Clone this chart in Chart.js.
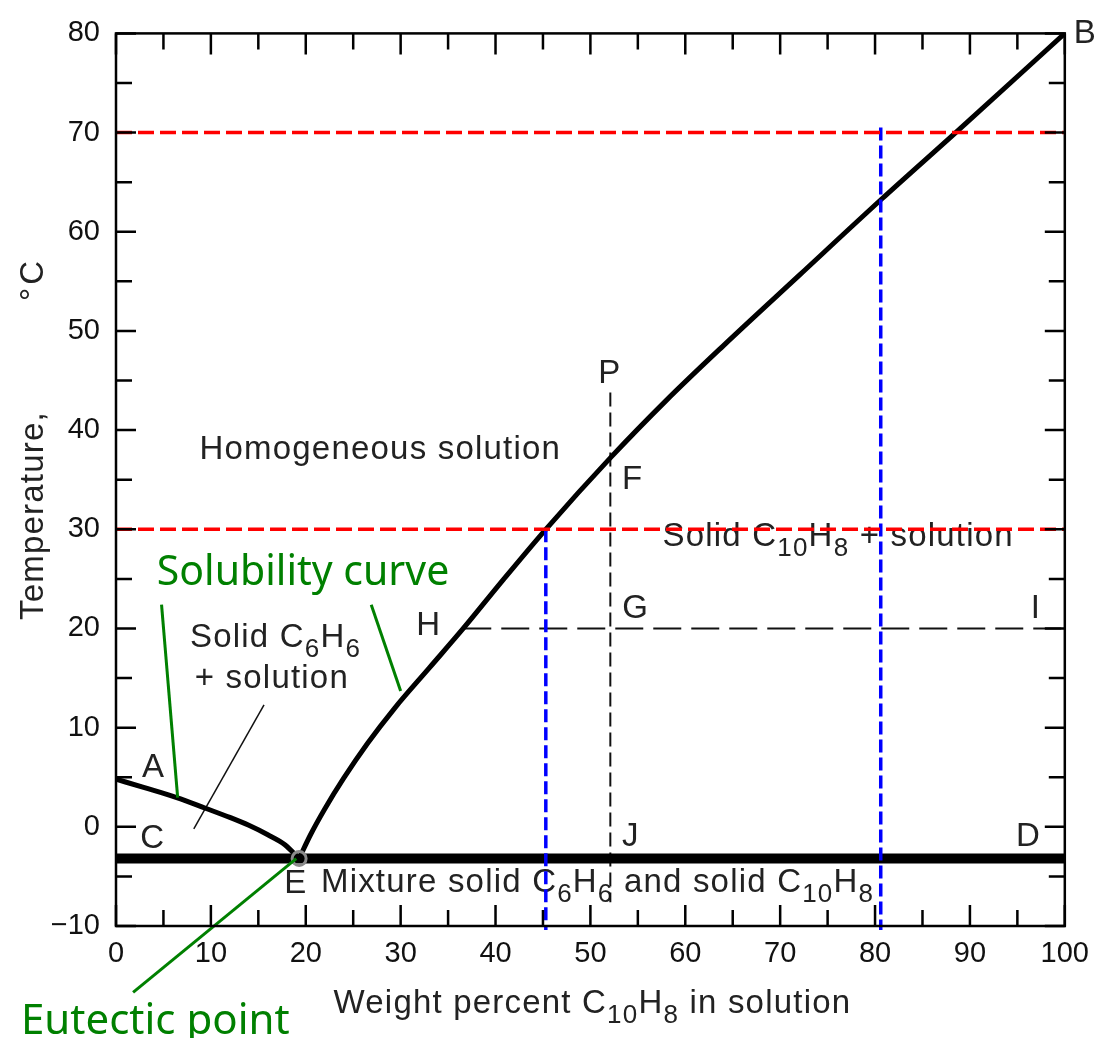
<!DOCTYPE html>
<html>
<head>
<meta charset="utf-8">
<script src="https://cdn.jsdelivr.net/npm/chart.js@4.4.1/dist/chart.umd.min.js"></script>
<style>
  html, body { margin: 0; padding: 0; background: #fff; }
</style>
</head>
<body>
<canvas id="diagrama" width="1100" height="1038"></canvas>
<script>
// ejes
const xTicks = [0, 10, 20, 30, 40, 50, 60, 70, 80, 90, 100];
const yTicks = [-10, 0, 10, 20, 30, 40, 50, 60, 70, 80];

// curva A-E (benceno solido + solucion)
const benzeneX = [0, 3, 6.4, 9.5, 12, 14, 16, 17.8, 19.3];
const benzeneT = [4.8, 3.95, 2.95, 1.85, 0.95, 0.15, -0.8, -1.8, -3.2];

// curva E-B (naftaleno solido + solucion)
const naphX = [19.3, 20.5, 22, 24, 26.5, 29.4, 33, 36.6, 40.8, 45.3, 52.1, 58, 64, 72, 80.7, 88.5, 100];
const naphT = [-3.2, -0.8, 1.8, 4.9, 8.4, 12.0, 16.0, 20.0, 24.9, 30.0, 37.2, 43.0, 48.5, 55.6, 63.3, 70.0, 80.0];

// punto eutectico y linea solida
const eutecticX = 19.3;
const eutecticT = -3.2;

// lineas de referencia
const redLevels = [70, 30];
const blueX = [45.3, 80.6];
const blueTop = [30, 70.5];
const isoplethX = 52.1;          // P-F-G-J
const isoplethT = [43.8, -7.6];
const tieLineT = 20;             // H-G-I
const tieLineX = [36.6, 100];
const pointerX = [8.2, 15.6];
const pointerT = [-0.2, 12.3];

// flechas verdes
const greenA = [[4.8, 22.4], [6.5, 2.95]];
const greenB = [[26.9, 22.4], [30.0, 13.7]];
const greenE = [[1.8, -16.7], [19.0, -3.2]];

// etiquetas dentro del grafico
const regionLabels = [
  { parts: ['Homogeneous solution'], x: 8.8, t: 37.1 },
  { parts: ['Solid C', '_10', 'H', '_8', ' + solution'], x: 57.6, t: 28.3 },
  { parts: ['Solid C', '_6', 'H', '_6'], x: 7.8, t: 18.1 },
  { parts: ['+ solution'], x: 8.3, t: 14.0 },
  { parts: ['Mixture solid C', '_6', 'H', '_6', ' and solid C', '_10', 'H', '_8'], x: 21.6, t: -6.6 }
];
const letterLabels = [
  ['A', 3.9, 5.0], ['C', 3.8, -2.1], ['E', 18.9, -6.7], ['H', 32.9, 19.3],
  ['P', 52.0, 44.8], ['F', 54.4, 34.1], ['G', 54.7, 21.1], ['I', 96.9, 21.1],
  ['J', 54.2, -1.9], ['D', 96.1, -1.9], ['B', 102.1, 79.0]
];

const pts = (xs, ys) => xs.map((x, i) => ({ x: x, y: ys[i] }));
const pair = (p) => p.map(q => ({ x: q[0], y: q[1] }));

function linea(data, color, width, dash, order, extra) {
  return Object.assign({
    data: data,
    showLine: true,
    borderColor: color,
    backgroundColor: color,
    borderWidth: width,
    borderDash: dash || [],
    pointRadius: 0,
    fill: false,
    order: order
  }, extra || {});
}

function drawRich(ctx, parts, x, y, o) {
  const size = o.size;
  const fam = o.family || 'Liberation Sans';
  ctx.save();
  ctx.fillStyle = o.color || '#222';
  ctx.textBaseline = 'alphabetic';
  ctx.textAlign = 'left';
  ctx.letterSpacing = (o.spacing || 0) + 'px';
  const pieces = parts.map(p => {
    const sub = p.startsWith('_');
    const text = sub ? p.slice(1) : p;
    const fs = sub ? Math.round(size * 0.78) : size;
    ctx.font = fs + 'px "' + fam + '"';
    return { text, sub, fs, w: ctx.measureText(text).width };
  });
  const total = pieces.reduce((s, p) => s + p.w, 0);
  let cx = o.align === 'center' ? x - total / 2 : (o.align === 'right' ? x - total : x);
  pieces.forEach(p => {
    ctx.font = p.fs + 'px "' + fam + '"';
    ctx.fillText(p.text, cx, y + (p.sub ? size * 0.3 : 0));
    cx += p.w;
  });
  ctx.restore();
}

const textos = {
  id: 'textos',
  beforeDatasetsDraw(chart) {
    const ctx = chart.ctx;
    const sx = chart.scales.x, sy = chart.scales.y;
    const area = chart.chartArea;
    const base = { size: 33, spacing: 1.2, color: '#222' };

    regionLabels.forEach(l => {
      drawRich(ctx, l.parts, sx.getPixelForValue(l.x), sy.getPixelForValue(l.t), base);
    });
    letterLabels.forEach(l => {
      drawRich(ctx, [l[0]], sx.getPixelForValue(l[1]), sy.getPixelForValue(l[2]),
        Object.assign({}, base, { align: 'center', spacing: 0 }));
    });

    // textos verdes
    const green = { size: 41, family: 'Noto Sans', color: '#008000' };
    drawRich(ctx, ['Solubility curve'], sx.getPixelForValue(4.3), sy.getPixelForValue(24.4), green);
    drawRich(ctx, ['Eutectic point'], 21, 1034, Object.assign({}, green, { size: 42 }));

    // titulo eje x
    drawRich(ctx, ['Weight percent C', '_10', 'H', '_8', ' in solution'],
      (area.left + area.right) / 2 + 2, area.bottom + 87, Object.assign({}, base, { align: 'center' }));

    // titulo eje y
    ctx.save();
    ctx.translate(43, 620);
    ctx.rotate(-Math.PI / 2);
    drawRich(ctx, ['Temperature,'], 0, 0, base);
    drawRich(ctx, ['\u00B0C'], 362, 0, Object.assign({}, base, { align: 'right', spacing: 3 }));
    ctx.restore();
  },
  afterDatasetsDraw(chart) {
    const ctx = chart.ctx;
    const sx = chart.scales.x, sy = chart.scales.y;
    const a = chart.chartArea;
    ctx.save();
    ctx.strokeStyle = '#000';
    ctx.lineWidth = 2.5;
    ctx.strokeRect(a.left, a.top, a.right - a.left, a.bottom - a.top);
    ctx.beginPath();
    for (let v = 0; v <= 100; v += 5) {
      const px = sx.getPixelForValue(v);
      const len = v % 10 === 0 ? 21 : 16;
      ctx.moveTo(px, a.bottom); ctx.lineTo(px, a.bottom - len);
      ctx.moveTo(px, a.top); ctx.lineTo(px, a.top + len);
    }
    for (let v = -10; v <= 80; v += 5) {
      const py = sy.getPixelForValue(v);
      const len = v % 10 === 0 ? 20 : 16;
      ctx.moveTo(a.left, py); ctx.lineTo(a.left + len, py);
      ctx.moveTo(a.right, py); ctx.lineTo(a.right - len, py);
    }
    ctx.stroke();
    ctx.restore();
  }
};

const datasets = [];
// curvas de solubilidad
datasets.push(linea(pts(benzeneX, benzeneT), '#000', 5, null, 3, { cubicInterpolationMode: 'monotone' }));
datasets.push(linea(pts(naphX, naphT), '#000', 5, null, 3, { cubicInterpolationMode: 'monotone' }));
// linea eutectica
datasets.push(linea(pts([0, 100], [eutecticT, eutecticT]), '#000', 10, null, 4));
// lineas negras punteadas
datasets.push(linea(pts([isoplethX, isoplethX], isoplethT), '#111', 2, [14, 6], 5));
datasets.push(linea(pts(tieLineX, [tieLineT, tieLineT]), '#111', 2, [28, 10], 5));
datasets.push(linea(pts(pointerX, pointerT), '#111', 1.5, null, 5));
// rojas
redLevels.forEach(t => datasets.push(linea(pts([0, 100], [t, t]), '#ff0000', 3.5, [16, 6], 1)));
// azules
blueX.forEach((x, i) => datasets.push(linea(pts([x, x], [blueTop[i], -10.4]), '#0000ff', 3.5, [13, 5], 1, { clip: false })));
// verdes
[greenA, greenB, greenE].forEach(g => datasets.push(linea(pair(g), '#008000', 3, null, 0, { clip: false })));
// punto eutectico
datasets.push({
  data: [{ x: eutecticX, y: eutecticT }],
  showLine: false,
  pointRadius: 7,
  pointBorderWidth: 3,
  pointBorderColor: '#8a8a8a',
  pointBackgroundColor: 'rgba(0,0,0,0)',
  order: 2,
  clip: false
});

new Chart(document.getElementById('diagrama').getContext('2d'), {
  type: 'scatter',
  data: { datasets: datasets },
  options: {
    responsive: false,
    animation: false,
    layout: { padding: { top: 28, right: 30, left: 0, bottom: 0 } },
    plugins: { legend: { display: false }, tooltip: { enabled: false } },
    scales: {
      x: {
        type: 'linear', min: 0, max: 100,
        afterBuildTicks: s => { s.ticks = xTicks.map(v => ({ value: v })); },
        afterFit: s => { s.height = 112; },
        grid: { display: false, drawTicks: false },
        border: { display: false },
        ticks: { autoSkip: false, maxRotation: 0, padding: 11, color: '#111',
                 font: { family: 'Liberation Sans', size: 29 } }
      },
      y: {
        type: 'linear', min: -10, max: 80,
        afterBuildTicks: s => { s.ticks = yTicks.map(v => ({ value: v })); },
        afterFit: s => { s.width = 116; },
        grid: { display: false, drawTicks: false },
        border: { display: false },
        ticks: { padding: 16, color: '#111', font: { family: 'Liberation Sans', size: 29 },
                 callback: v => v < 0 ? '\u2212' + Math.abs(v) : String(v) }
      }
    }
  },
  plugins: [textos]
});
</script>
</body>
</html>
